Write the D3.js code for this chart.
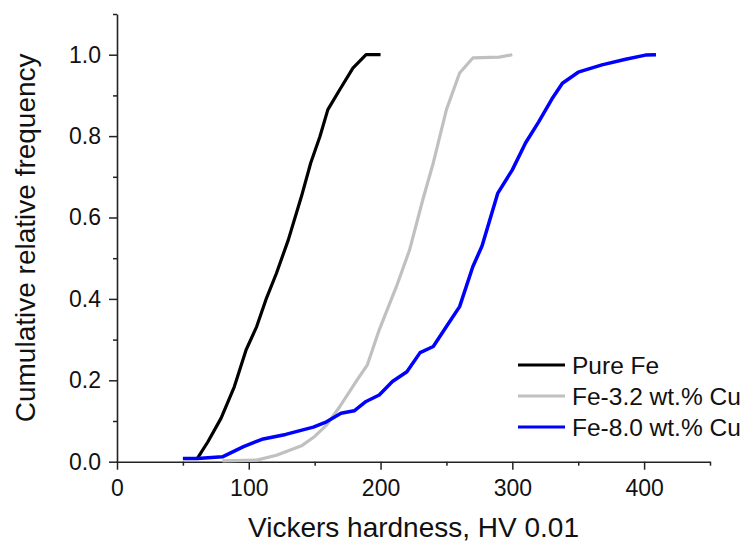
<!DOCTYPE html>
<html>
<head>
<meta charset="utf-8">
<script src="https://cdn.jsdelivr.net/npm/d3@7"></script>
<style>
  body { margin: 0; background: #fff; }
  svg { display: block; font-family: Arial, "Liberation Sans", sans-serif; }
</style>
</head>
<body>
<div id="chart"></div>
<script>
// series names as in the legend
var seriesNames = ["Pure Fe", "Fe-3.2 wt.% Cu", "Fe-8.0 wt.% Cu"];
var seriesColors = ["#000000", "#c0c0c0", "#0000ff"];

// cumulative curves: [hardness, fraction]
var pureFe = [
  [61, 0.008], [69, 0.049], [79, 0.107], [89, 0.184], [98, 0.275], [106, 0.332],
  [113, 0.398], [121, 0.463], [130, 0.545], [140, 0.652], [147, 0.734], [154, 0.799],
  [160, 0.865], [169, 0.914], [179, 0.967], [189, 1.0], [200, 1.0]
];
var fe32 = [
  [80, 0.002], [106, 0.004], [121, 0.016], [140, 0.039], [150, 0.062], [159, 0.09],
  [169, 0.135], [182, 0.2], [190, 0.238], [199, 0.324], [212, 0.43], [222, 0.52],
  [232, 0.643], [240, 0.734], [250, 0.865], [260, 0.955], [270, 0.992], [290, 0.994],
  [300, 1.0]
];
var fe80 = [
  [50, 0.008], [61, 0.008], [80, 0.012], [96, 0.037], [110, 0.055], [128, 0.067],
  [149, 0.085], [159, 0.098], [170, 0.119], [180, 0.125], [189, 0.148], [199, 0.164],
  [209, 0.197], [220, 0.221], [230, 0.268], [240, 0.283], [250, 0.332], [260, 0.381],
  [270, 0.479], [277, 0.53], [289, 0.66], [300, 0.717], [310, 0.783], [320, 0.835],
  [330, 0.891], [338, 0.93], [350, 0.957], [368, 0.975], [386, 0.989], [401, 0.999],
  [409, 1.0]
];

var xMajor = [0, 100, 200, 300, 400];
var xMinor = [50, 150, 250, 350, 450];
var yMajor = [0, 0.2, 0.4, 0.6, 0.8, 1.0];
var yMinor = [0.1, 0.3, 0.5, 0.7, 0.9, 1.1];

var width = 744, height = 545;
var plot = { left: 117, right: 710, top: 14, bottom: 461.7 };

var svg = d3.select("#chart").append("svg")
  .attr("width", width)
  .attr("height", height);

var x = d3.scaleLinear().domain([0, 450]).range([plot.left, plot.right]);
var y = d3.scaleLinear().domain([0, 1.1]).range([plot.bottom, plot.top]);

// minor ticks first, then major axes on top
svg.append("g")
  .attr("transform", "translate(0," + plot.bottom + ")")
  .call(d3.axisBottom(x).tickValues(xMinor).tickSize(4).tickFormat(""))
  .call(function(g) { g.select(".domain").remove(); });
svg.append("g")
  .attr("transform", "translate(" + plot.left + ",0)")
  .call(d3.axisLeft(y).tickValues(yMinor).tickSize(4).tickFormat(""))
  .call(function(g) { g.select(".domain").remove(); });

var xAxis = svg.append("g")
  .attr("transform", "translate(0," + plot.bottom + ")")
  .call(d3.axisBottom(x).tickValues(xMajor).tickSize(8).tickSizeOuter(0).tickPadding(10)
    .tickFormat(d3.format("d")));
var yAxis = svg.append("g")
  .attr("transform", "translate(" + plot.left + ",0)")
  .call(d3.axisLeft(y).tickValues(yMajor).tickSize(8).tickSizeOuter(0).tickPadding(8)
    .tickFormat(d3.format(".1f")));

svg.selectAll(".tick line").attr("stroke", "#222").attr("stroke-width", 1.5);
svg.selectAll(".domain").attr("stroke", "#222").attr("stroke-width", 1.6);
svg.selectAll(".tick text")
  .attr("font-family", "Arial, 'Liberation Sans', sans-serif")
  .attr("font-size", 23)
  .attr("fill", "#111");

// curves
var line = d3.line()
  .x(function(d) { return x(d[0]); })
  .y(function(d) { return y(d[1]); });

var allSeries = [pureFe, fe32, fe80];
svg.append("g").selectAll("path")
  .data(allSeries)
  .join("path")
  .attr("d", line)
  .attr("fill", "none")
  .attr("stroke", function(d, i) { return seriesColors[i]; })
  .attr("stroke-width", function(d, i) { return i == 2 ? 3.5 : 3.2; })
  .attr("stroke-linejoin", "round");

// axis titles
svg.append("text")
  .attr("x", (plot.left + plot.right) / 2)
  .attr("y", 537)
  .attr("text-anchor", "middle")
  .attr("font-size", 28)
  .attr("fill", "#111")
  .text("Vickers hardness, HV 0.01");

svg.append("text")
  .attr("transform", "translate(35," + ((plot.top + plot.bottom) / 2) + ") rotate(-90)")
  .attr("text-anchor", "middle")
  .attr("font-size", 28)
  .attr("fill", "#111")
  .text("Cumulative relative frequency");

// legend
var legend = svg.append("g").attr("transform", "translate(518,365)");
var rows = legend.selectAll("g")
  .data(seriesNames)
  .join("g")
  .attr("transform", function(d, i) { return "translate(0," + (i * 31) + ")"; });
rows.append("line")
  .attr("x1", 0).attr("x2", 47)
  .attr("stroke", function(d, i) { return seriesColors[i]; })
  .attr("stroke-width", 3.2);
rows.append("text")
  .attr("x", 54)
  .attr("dy", "0.35em")
  .attr("font-size", 24.5)
  .attr("fill", "#111")
  .text(function(d) { return d; });
</script>
</body>
</html>
